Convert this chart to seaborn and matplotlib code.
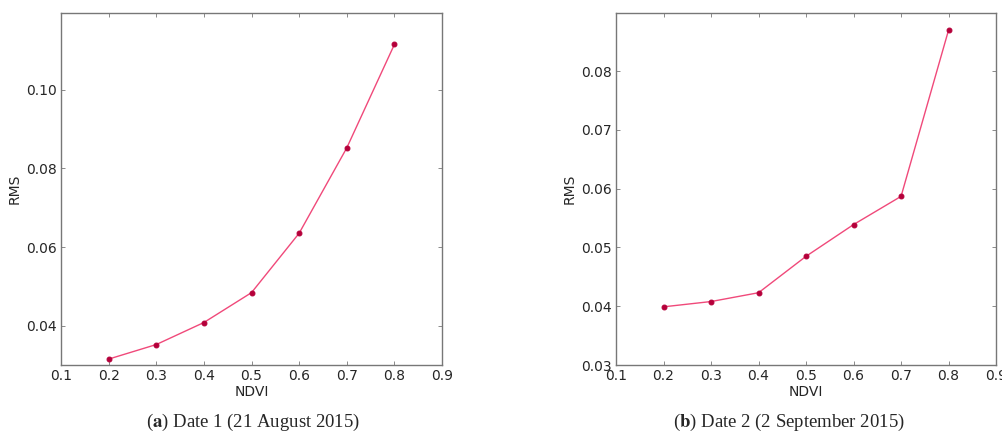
import seaborn as sns
import matplotlib.pyplot as plt
import pandas as pd

# data
ndvi = [0.2, 0.3, 0.4, 0.5, 0.6, 0.7, 0.8]
rms_date1 = [0.0315, 0.0352, 0.0408, 0.0484, 0.0635, 0.0852, 0.1115]
rms_date2 = [0.0399, 0.0408, 0.0423, 0.0485, 0.0539, 0.0587, 0.0870]
captions = [("a", " Date 1 (21 August 2015)"), ("b", " Date 2 (2 September 2015)")]

sns.set_theme(style="ticks")
plt.rcParams["font.family"] = ["DejaVu Sans"]
plt.rcParams["xtick.direction"] = "in"
plt.rcParams["ytick.direction"] = "in"

fig = plt.figure(figsize=(10.03, 4.42), dpi=100)
ax1 = fig.add_axes([0.0608, 0.1742, 0.3799, 0.7964])
ax2 = fig.add_axes([0.6142, 0.1742, 0.3789, 0.7964])

df1 = pd.DataFrame({"NDVI": ndvi, "RMS": rms_date1})
df2 = pd.DataFrame({"NDVI": ndvi, "RMS": rms_date2})

for ax, df in [(ax1, df1), (ax2, df2)]:
    sns.lineplot(data=df, x="NDVI", y="RMS", ax=ax, color="#f0497a", linewidth=1.0,
                 marker="o", markersize=3.5, markerfacecolor="#b5003a",
                 markeredgecolor="#b5003a")
    ax.set_xlim(0.1, 0.9)
    ax.set_xticks([0.1, 0.2, 0.3, 0.4, 0.5, 0.6, 0.7, 0.8, 0.9])
    ax.tick_params(labelsize=10, length=3, width=0.6, color="#777777",
                   top=True, right=True, pad=3)
    ax.set_xlabel("NDVI", fontsize=10, labelpad=1)
    ax.set_ylabel("RMS", fontsize=10, labelpad=3)
    for s in ax.spines.values():
        s.set_color("#777777")
        s.set_linewidth(1.0)

ax1.set_ylim(0.03, 0.1195)
ax1.set_yticks([0.04, 0.06, 0.08, 0.10])
ax1.set_yticklabels(["0.04", "0.06", "0.08", "0.10"])
ax2.set_ylim(0.03, 0.0899)
ax2.set_yticks([0.03, 0.04, 0.05, 0.06, 0.07, 0.08])
ax2.set_yticklabels(["0.03", "0.04", "0.05", "0.06", "0.07", "0.08"])
ax1.set_xticklabels(["0.1", "0.2", "0.3", "0.4", "0.5", "0.6", "0.7", "0.8", "0.9"])
ax2.set_xticklabels(["0.1", "0.2", "0.3", "0.4", "0.5", "0.6", "0.7", "0.8", "0.9"])

# captions below each panel
for cx, (letter, rest) in zip([0.252, 0.787], captions):
    fig.text(cx, 0.045, f"(" + r"$\mathbf{" + letter + "}$" + ")" + rest,
             ha="center", va="center", fontsize=13.5, family="Liberation Serif",
             math_fontfamily="stix")

fig.savefig("out.png", dpi=100, facecolor="white")
